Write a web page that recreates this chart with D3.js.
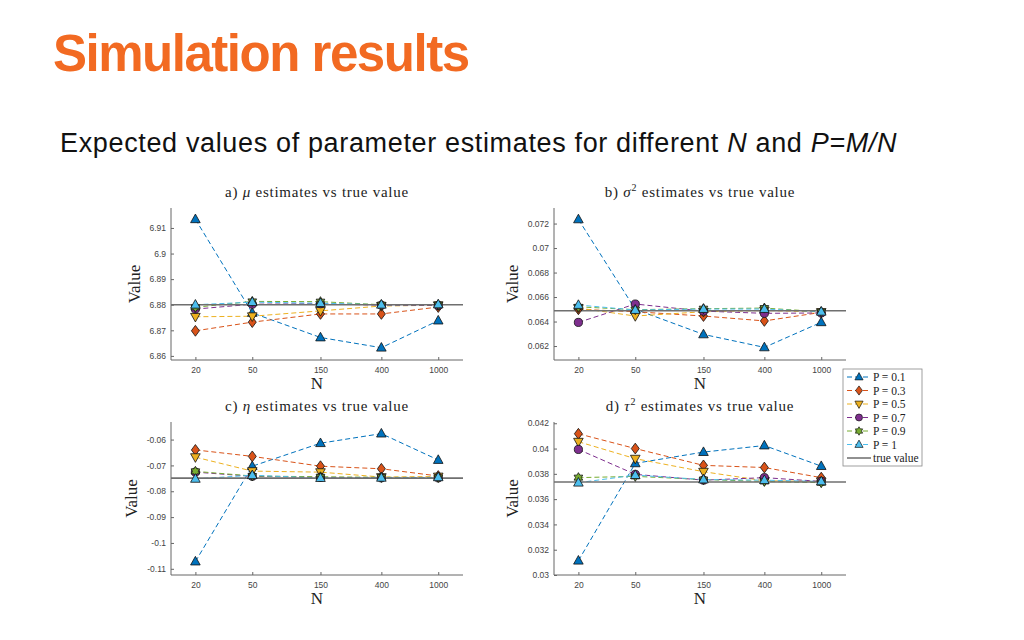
<!DOCTYPE html>
<html><head><meta charset="utf-8">
<script src="https://cdn.jsdelivr.net/npm/d3@7"></script>
<style>body{margin:0;background:#fff} svg{display:block}</style>
</head><body><svg id="c" width="1024" height="640"></svg>
<script>
// ---------- data ----------
const Ns = [20, 50, 150, 400, 1000];
const xTickLabels = ["20", "50", "150", "400", "1000"];
const seriesNames = ["P = 0.1", "P = 0.3", "P = 0.5", "P = 0.7", "P = 0.9", "P = 1"];
const seriesColors = ["#0072BD", "#D95319", "#EDB120", "#7E2F8E", "#77AC30", "#4DBEEE"];
const seriesMarkers = ["triangle", "diamond", "triangleDown", "circle", "hexagram", "triangle"];

// a) mu
const muEstimates = [
  [6.9134, 6.8768, 6.8672, 6.8632, 6.8738],
  [6.8698, 6.8732, 6.8764, 6.8764, 6.8791],
  [6.8753, 6.8755, 6.8776, 6.8795, 6.8798],
  [6.8783, 6.8802, 6.8804, 6.8798, 6.8797],
  [6.8790, 6.8813, 6.8812, 6.8800, 6.8800],
  [6.8800, 6.8810, 6.8806, 6.8800, 6.8801]
];
const muTrue = 6.88;
const muTicks = [6.86, 6.87, 6.88, 6.89, 6.9, 6.91];
const muTickLabels = ["6.86", "6.87", "6.88", "6.89", "6.9", "6.91"];

// b) sigma^2
const sigmaEstimates = [
  [0.07234, 0.0650, 0.06295, 0.06189, 0.06394],
  [0.0650, 0.0648, 0.06445, 0.06405, 0.06475],
  [0.0651, 0.06445, 0.0648, 0.0649, 0.06478],
  [0.06393, 0.06543, 0.06485, 0.06467, 0.0647],
  [0.0652, 0.06497, 0.06505, 0.0651, 0.0648],
  [0.06535, 0.06494, 0.06502, 0.06502, 0.0648]
];
const sigmaTrue = 0.06488;
const sigmaTicks = [0.062, 0.064, 0.066, 0.068, 0.07, 0.072];
const sigmaTickLabels = ["0.062", "0.064", "0.066", "0.068", "0.07", "0.072"];

// c) eta
const etaEstimates = [
  [-0.1072, -0.0703, -0.0614, -0.0577, -0.0679],
  [-0.0640, -0.0665, -0.0703, -0.0713, -0.0741],
  [-0.0668, -0.0722, -0.0726, -0.0745, -0.0743],
  [-0.0726, -0.0742, -0.0746, -0.0748, -0.0748],
  [-0.0723, -0.0741, -0.0744, -0.0746, -0.0747],
  [-0.0752, -0.0738, -0.0749, -0.0748, -0.0746]
];
const etaTrue = -0.0749;
const etaTicks = [-0.11, -0.1, -0.09, -0.08, -0.07, -0.06];
const etaTickLabels = ["-0.11", "-0.1", "-0.09", "-0.08", "-0.07", "-0.06"];

// d) tau^2
const tauEstimates = [
  [0.03113, 0.03883, 0.03972, 0.04024, 0.03861],
  [0.04117, 0.0400, 0.03867, 0.0385, 0.0377],
  [0.04054, 0.0392, 0.03817, 0.03745, 0.0374],
  [0.03993, 0.03796, 0.0375, 0.0377, 0.0374],
  [0.0377, 0.0378, 0.03755, 0.0374, 0.0373],
  [0.0373, 0.0379, 0.03755, 0.0375, 0.0374]
];
const tauTrue = 0.03735;
const tauTicks = [0.03, 0.032, 0.034, 0.036, 0.038, 0.04, 0.042];
const tauTickLabels = ["0.03", "0.032", "0.034", "0.036", "0.038", "0.04", "0.042"];

// ---------- layout ----------
const svg = d3.select("#c");
const serif = "'Liberation Serif','DejaVu Serif',serif";
const sans = "'Liberation Sans',Arial,Helvetica,sans-serif";

const panels = [
  {key: "a", sym: "μ", sup: null, est: muEstimates, truth: muTrue, ticks: muTicks, labels: muTickLabels, dom: [6.8584, 6.9178], x0: 171, x1: 463, y0: 208, y1: 360},
  {key: "b", sym: "σ", sup: "2", est: sigmaEstimates, truth: sigmaTrue, ticks: sigmaTicks, labels: sigmaTickLabels, dom: [0.06086, 0.07327], x0: 554, x1: 846, y0: 208, y1: 360},
  {key: "c", sym: "η", sup: null, est: etaEstimates, truth: etaTrue, ticks: etaTicks, labels: etaTickLabels, dom: [-0.1124, -0.0532], x0: 171, x1: 463, y0: 422, y1: 575},
  {key: "d", sym: "τ", sup: "2", est: tauEstimates, truth: tauTrue, ticks: tauTicks, labels: tauTickLabels, dom: [0.03, 0.0421], x0: 554, x1: 846, y0: 422, y1: 575}
];

// marker shapes
function markerPath(type) {
  switch (type) {
    case "triangle": return "M0,-5.2L4.8,3.4L-4.8,3.4Z";
    case "triangleDown": return "M0,5.2L4.8,-3.4L-4.8,-3.4Z";
    case "diamond": return "M0,-5.4L4,0L0,5.4L-4,0Z";
    case "circle": return "M4.1,0A4.1,4.1 0 1,1 -4.1,0A4.1,4.1 0 1,1 4.1,0Z";
    case "hexagram": {
      let p = [];
      for (let i = 0; i < 12; i++) {
        const r = i % 2 === 0 ? 5 : 2.9;
        const a = -Math.PI / 2 + i * Math.PI / 6;
        p.push([r * Math.cos(a), r * Math.sin(a)]);
      }
      return "M" + p.map(q => q[0].toFixed(2) + "," + q[1].toFixed(2)).join("L") + "Z";
    }
  }
}

function fitSpacing(sel, target) {
  const node = sel.node();
  const w = node.getBBox().width;
  const n = node.textContent.length;
  sel.attr("letter-spacing", ((target - w) / Math.max(1, n - 1)).toFixed(3));
}

// Headline
const title = svg.append("text").attr("x", 53).attr("y", 71)
  .attr("font-family", sans).attr("font-weight", "bold").attr("font-size", 51)
  .attr("fill", "#F26A22").text("Simulation results");
fitSpacing(title, 417);

const sub = svg.append("text").attr("x", 60).attr("y", 152)
  .attr("font-family", sans).attr("font-size", 27).attr("fill", "#111");
sub.append("tspan").text("Expected values of parameter estimates for different ");
sub.append("tspan").attr("font-style", "italic").text("N");
sub.append("tspan").text(" and ");
sub.append("tspan").attr("font-style", "italic").text("P=M/N");
fitSpacing(sub, 837);

panels.forEach(p => {
  const g = svg.append("g");
  const x = d3.scaleLog().domain([13.5, 1490]).range([p.x0, p.x1]);
  const y = d3.scaleLinear().domain(p.dom).range([p.y1, p.y0]);

  const ya = g.append("g").attr("transform", `translate(${p.x0},0)`)
    .call(d3.axisLeft(y).tickValues(p.ticks).tickFormat((d, i) => p.labels[i]).tickSize(-3).tickPadding(5));
  const xa = g.append("g").attr("transform", `translate(0,${p.y1})`)
    .call(d3.axisBottom(x).tickValues(Ns).tickFormat((d, i) => xTickLabels[i]).tickSize(-3).tickPadding(7));
  [ya, xa].forEach(a => {
    a.select(".domain").attr("stroke", "#666").attr("stroke-width", 1);
    a.selectAll(".tick line").attr("stroke", "#666");
    a.selectAll(".tick text").attr("font-family", sans).attr("font-size", 8.5).attr("fill", "#444");
  });
  ya.select(".domain").attr("d", `M0,${p.y1}V${p.y0}`);
  xa.select(".domain").attr("d", `M${p.x0},0H${p.x1}`);

  let maxW = 0;
  ya.selectAll(".tick text").each(function () { maxW = Math.max(maxW, this.getBBox().width); });
  const yl = p.x0 - 8 - maxW - 12;
  g.append("text").attr("transform", `translate(${yl},${(p.y0 + p.y1) / 2}) rotate(-90)`)
    .attr("text-anchor", "middle").attr("dominant-baseline", "central")
    .attr("font-family", serif).attr("font-size", 17).attr("fill", "#222").text("Value");
  g.append("text").attr("x", (p.x0 + p.x1) / 2).attr("y", p.y1 + 29)
    .attr("text-anchor", "middle").attr("font-family", serif).attr("font-size", 17).attr("fill", "#222").text("N");

  // title
  const t = g.append("text").attr("x", (p.x0 + p.x1) / 2).attr("y", p.y0 - 11)
    .attr("text-anchor", "middle").attr("font-family", serif).attr("font-size", 15).attr("fill", "#222")
    .attr("letter-spacing", 0.75);
  t.append("tspan").text(p.key + ") ");
  t.append("tspan").attr("font-style", "italic").text(p.sym);
  if (p.sup) t.append("tspan").attr("font-size", 10).attr("dy", -6).text(p.sup);
  t.append("tspan").attr("dy", p.sup ? 6 : 0).text(" estimates vs true value");

  const line = d3.line().x((d, i) => x(Ns[i])).y(d => y(d));
  p.est.forEach((vals, s) => {
    g.append("path").attr("d", line(vals)).attr("fill", "none")
      .attr("stroke", seriesColors[s]).attr("stroke-width", 1).attr("stroke-dasharray", "5,3");
  });
  g.append("line").attr("x1", p.x0).attr("x2", p.x1).attr("y1", y(p.truth)).attr("y2", y(p.truth))
    .attr("stroke", "#6f6f6f").attr("stroke-width", 1.6);
  p.est.forEach((vals, s) => {
    g.selectAll(null).data(vals).enter().append("path")
      .attr("d", markerPath(seriesMarkers[s]))
      .attr("transform", (d, i) => `translate(${x(Ns[i])},${y(d)})`)
      .attr("fill", seriesColors[s]).attr("stroke", "#111").attr("stroke-width", 0.8);
  });
});

// legend
const lg = svg.append("g");
const lx = 843, ly = 369, rowH = 13.5;
lg.append("rect").attr("x", lx).attr("y", ly).attr("width", 79).attr("height", 97)
  .attr("fill", "#fff").attr("stroke", "#888").attr("stroke-width", 0.8);
const legendItems = seriesNames.map((n, i) => ({name: n, color: seriesColors[i], marker: seriesMarkers[i]}))
  .concat([{name: "true value", color: "#222", marker: null}]);
legendItems.forEach((it, i) => {
  const cy = ly + 8 + i * rowH;
  lg.append("line").attr("x1", lx + 4).attr("x2", lx + 28).attr("y1", cy).attr("y2", cy)
    .attr("stroke", it.color).attr("stroke-width", 1)
    .attr("stroke-dasharray", it.marker ? "5,3" : null);
  if (it.marker) lg.append("path").attr("d", markerPath(it.marker))
    .attr("transform", `translate(${lx + 16},${cy}) scale(0.85)`)
    .attr("fill", it.color).attr("stroke", "#111").attr("stroke-width", 0.8);
  lg.append("text").attr("x", lx + 30).attr("y", cy).attr("dominant-baseline", "central")
    .attr("font-family", serif).attr("font-size", 11.5).attr("fill", "#222")
    .text(it.name);
});
</script>
</body></html>
